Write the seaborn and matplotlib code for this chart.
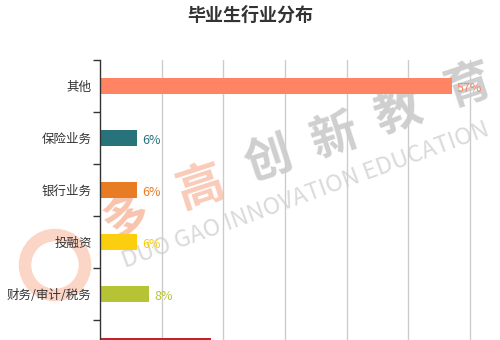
import matplotlib
matplotlib.use("Agg")
import matplotlib.pyplot as plt
from matplotlib.patches import Circle
import seaborn as sns
import pandas as pd
import numpy as np

categories = ["其他", "保险业务", "银行业务", "投融资", "财务/审计/税务", "证券业务"]
values = [57, 6, 6, 6, 8, 18]
colors = ["#FE8463", "#27727B", "#E87C25", "#FCCE10", "#B5C334", "#C1232B"]
title = "毕业生行业分布"
watermark_cn = ["多", "高", "创", "新", "教", "育"]
watermark_en = "DUO GAO INNOVATION EDUCATION"

sns.set_theme(style="white")
plt.rcParams["font.family"] = ["Noto Sans CJK SC", "DejaVu Sans"]

df = pd.DataFrame({"category": categories, "value": values})

fig = plt.figure(figsize=(5, 3.4), dpi=100)
ax = fig.add_axes([0.2, 1 - 372 / 340, 0.74, 312 / 340])
ax.patch.set_alpha(0)

sns.barplot(data=df, x="value", y="category", hue="category", order=categories,
            palette=colors, orient="h", width=0.31, legend=False, ax=ax,
            saturation=1, edgecolor="none")

ax.set_xlim(0, 60)
ax.set_ylim(len(categories) - 0.5, -0.5)
ax.set_xticks(np.arange(10, 61, 10))
ax.xaxis.grid(True, color="#cccccc", linewidth=1)
for gl in ax.get_xgridlines():
    gl.set_clip_on(False)
ax.set_axisbelow(True)
ax.tick_params(axis="x", length=0, labelbottom=False)

for s in ["top", "right", "bottom"]:
    ax.spines[s].set_visible(False)
ax.spines["left"].set_color("#333333")
ax.spines["left"].set_linewidth(1)

ax.set_yticks(range(len(categories)))
ax.set_yticklabels(categories, fontsize=9, color="#333333")
ax.set_yticks(np.arange(-0.5, len(categories), 1), minor=True)
ax.tick_params(axis="y", which="major", length=0, pad=6)
ax.tick_params(axis="y", which="minor", length=5, width=1, color="#333333", left=True)
ax.set_xlabel("")
ax.set_ylabel("")

for cont in ax.containers:
    for bar in cont:
        w = bar.get_width()
        idx = int(round(bar.get_y() + bar.get_height() / 2))
        ax.annotate(f"{values[idx]:.0f}%", (w, idx), xytext=(3.5, -2),
                    textcoords="offset points", ha="left", va="center",
                    fontsize=9, color=colors[idx])

fig.text(0.5, 1 - 15 / 340, title, ha="center", va="center",
         fontsize=13, fontweight="bold", color="#333333")

# faint watermark behind the chart
wm_pos = [(125, 218), (200, 188), (268, 160), (335, 137), (398, 112), (468, 86)]
wm_cols = ["#f9c4ae", "#f9cbb8", "#cfcfcf", "#cfcfcf", "#cfcfcf", "#cfcfcf"]
for ch, (px, py), c in zip(watermark_cn, wm_pos, wm_cols):
    fig.text(px / 500, 1 - py / 340, ch, ha="center", va="center", fontsize=34,
             fontweight="bold", color=c, rotation=18, zorder=-1)
fig.text(306 / 500, 1 - 195 / 340, watermark_en, ha="center", va="center",
         fontsize=17, color="#dadada", rotation=20, zorder=-1)
ring = Circle((0.55, 3.4 - 2.65), 0.3, transform=fig.dpi_scale_trans,
              fill=False, edgecolor="#fbd5c5", linewidth=9, zorder=-1)
fig.add_artist(ring)

fig.savefig("out.png", dpi=100)
